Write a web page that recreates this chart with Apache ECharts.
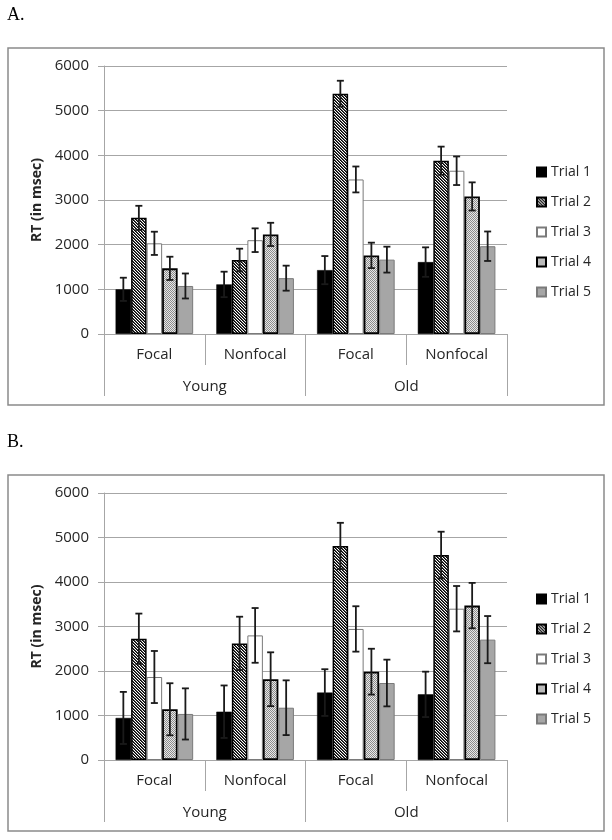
<!DOCTYPE html>
<html><head><meta charset="utf-8">
<script src="https://cdn.jsdelivr.net/npm/echarts@6/dist/echarts.min.js"></script>
<style>html,body{margin:0;padding:0;background:#fff}#c{width:612px;height:840px}</style>
</head><body><div id="c"></div>
<script>
// ---- data ----
const subCategories = ['Focal', 'Nonfocal', 'Focal', 'Nonfocal'];
const groupCategories = ['Young', 'Old'];
const trialNames = ['Trial 1', 'Trial 2', 'Trial 3', 'Trial 4', 'Trial 5'];
const yMin = 0, yMax = 6000, yStep = 1000;
const yAxisTitle = 'RT (in msec)';
const panelLabels = ['A.', 'B.'];

// Panel A means (Young Focal, Young Nonfocal, Old Focal, Old Nonfocal)
const trial1A = [1000, 1110, 1430, 1610];
const trial2A = [2600, 1655, 5380, 3880];
const trial3A = [2030, 2100, 3460, 3655];
const trial4A = [1470, 2230, 1760, 3080];
const trial5A = [1075, 1250, 1665, 1965];
// Panel A error half-widths
const err1A = [260, 285, 315, 330];
const err2A = [270, 255, 290, 315];
const err3A = [260, 265, 290, 320];
const err4A = [260, 260, 285, 315];
const err5A = [280, 280, 290, 330];

// Panel B means
const trial1B = [945, 1085, 1515, 1475];
const trial2B = [2725, 2620, 4810, 4605];
const trial3B = [1865, 2800, 2945, 3400];
const trial4B = [1140, 1815, 1985, 3470];
const trial5B = [1035, 1175, 1730, 2705];
// Panel B error half-widths
const err1B = [585, 590, 525, 510];
const err2B = [565, 600, 520, 525];
const err3B = [585, 615, 510, 510];
const err4B = [585, 605, 515, 510];
const err5B = [575, 615, 525, 530];

// ---- styling ----
const FONT = '"Open Sans", "Liberation Sans", sans-serif';
const TXT = '#262626';
const GRID = '#a6a6a6';
const CAT_GAP = 0.23;

function tile(w, h, fn) {
  const c = document.createElement('canvas');
  c.width = w; c.height = h;
  const ctx = c.getContext('2d');
  for (let y = 0; y < h; y++) for (let x = 0; x < w; x++) {
    ctx.fillStyle = fn(x, y);
    ctx.fillRect(x, y, 1, 1);
  }
  return c;
}
const hatch = tile(3, 3, (x, y) => {
  const k = (((x - y) % 3) + 3) % 3;
  return k === 0 ? '#000000' : (k === 1 ? '#4a4a4a' : '#ffffff');
});
const stipple = tile(2, 2, (x, y) => ((x + y) % 2 === 0) ? '#8c8c8c' : '#e8e8e8');

const trialStyles = [
  { color: '#000000', borderColor: '#000000', borderWidth: 0.5 },
  { color: { image: hatch, repeat: 'repeat' }, borderColor: '#000000', borderWidth: 1.5 },
  { color: '#ffffff', borderColor: '#7a7a7a', borderWidth: 1 },
  { color: { image: stipple, repeat: 'repeat' }, borderColor: '#000000', borderWidth: 1.8 },
  { color: '#a6a6a6', borderColor: '#7a7a7a', borderWidth: 1 }
];

const panels = [
  { means: [trial1A, trial2A, trial3A, trial4A, trial5A], errs: [err1A, err2A, err3A, err4A, err5A],
    grid: { left: 104, right: 105, top: 66, bottom: 506 }, legendTop: 160, box: [8, 48, 596, 357], labelY: 15 },
  { means: [trial1B, trial2B, trial3B, trial4B, trial5B], errs: [err1B, err2B, err3B, err4B, err5B],
    grid: { left: 104, right: 105, top: 493, bottom: 80 }, legendTop: 587, box: [8, 475, 596, 356], labelY: 442 }
];

const grids = [], xAxes = [], yAxes = [], series = [], legends = [], graphics = [];

panels.forEach((p, gi) => {
  grids.push(p.grid);
  xAxes.push({
    gridIndex: gi, type: 'category', data: subCategories, position: 'bottom',
    axisLine: { lineStyle: { color: GRID, width: 1 } },
    axisTick: { show: true, interval: 0, length: 31, lineStyle: { color: GRID } },
    axisLabel: { interval: 0, margin: 13, fontSize: 15, color: TXT, fontFamily: FONT }
  });
  xAxes.push({
    gridIndex: gi, type: 'category', data: groupCategories, position: 'bottom',
    axisLine: { show: false },
    axisTick: { show: true, interval: 0, length: 62, lineStyle: { color: GRID } },
    axisLabel: { interval: 0, margin: 45, fontSize: 15, color: TXT, fontFamily: FONT }
  });
  yAxes.push({
    gridIndex: gi, type: 'value', min: yMin, max: yMax, interval: yStep,
    axisLine: { show: true, lineStyle: { color: GRID } },
    axisTick: { show: true, length: 6, lineStyle: { color: GRID } },
    splitLine: { show: true, lineStyle: { color: GRID, width: 1 } },
    axisLabel: { fontSize: 15, margin: 15, color: TXT, fontFamily: FONT, formatter: v => String(v) },
    name: yAxisTitle, nameLocation: 'middle', nameRotate: 90, nameGap: 53,
    nameTextStyle: { fontSize: 14, fontWeight: 'bold', color: TXT, fontFamily: FONT }
  });
  p.means.forEach((arr, t) => {
    series.push({
      type: 'bar', name: trialNames[t], xAxisIndex: gi * 2, yAxisIndex: gi,
      data: arr, barGap: '0%', barCategoryGap: (CAT_GAP * 100) + '%',
      itemStyle: trialStyles[t], z: 2
    });
  });
  const errData = [];
  p.means.forEach((arr, t) => arr.forEach((m, c) => {
    errData.push([c, t, m - p.errs[t][c], m + p.errs[t][c]]);
  }));
  series.push({
    type: 'custom', name: 'err' + gi, xAxisIndex: gi * 2, yAxisIndex: gi, z: 5,
    data: errData, encode: { x: 0, y: [2, 3] },
    renderItem: function (params, api) {
      const c = api.value(0), t = api.value(1);
      const band = api.size([1, 0])[0];
      const bw = band * (1 - CAT_GAP) / 5;
      const cx = api.coord([c, 0])[0] - 2.5 * bw + (t + 0.5) * bw;
      const yl = api.coord([c, api.value(2)])[1];
      const yh = api.coord([c, api.value(3)])[1];
      const cap = 3.5;
      const st = { stroke: '#1a1a1a', lineWidth: 1.8 };
      return { type: 'group', children: [
        { type: 'line', shape: { x1: cx, y1: yl, x2: cx, y2: yh }, style: st },
        { type: 'line', shape: { x1: cx - cap, y1: yh, x2: cx + cap, y2: yh }, style: st },
        { type: 'line', shape: { x1: cx - cap, y1: yl, x2: cx + cap, y2: yl }, style: st }
      ]};
    }
  });
  legends.push({
    orient: 'vertical', left: 531, top: p.legendTop, itemWidth: 9, itemHeight: 9, itemGap: 16,
    icon: 'rect', data: trialNames,
    textStyle: { fontSize: 14, lineHeight: 14, color: TXT, fontFamily: FONT }
  });
  graphics.push({
    type: 'rect', shape: { x: p.box[0], y: p.box[1], width: p.box[2], height: p.box[3] },
    style: { fill: 'none', stroke: '#8a8a8a', lineWidth: 1.5 }, z: 0
  });
  graphics.push({
    type: 'text', x: 7, y: p.labelY,
    style: { text: panelLabels[gi], font: '18px "Liberation Serif", "Times New Roman", serif', fill: '#000', verticalAlign: 'middle' }
  });
});

const chart = echarts.init(document.getElementById('c'), null, { renderer: 'canvas' });
chart.setOption({
  animation: false,
  backgroundColor: '#ffffff',
  textStyle: { fontFamily: FONT },
  grid: grids, xAxis: xAxes, yAxis: yAxes, series: series, legend: legends, graphic: graphics
});
</script>
</body></html>
